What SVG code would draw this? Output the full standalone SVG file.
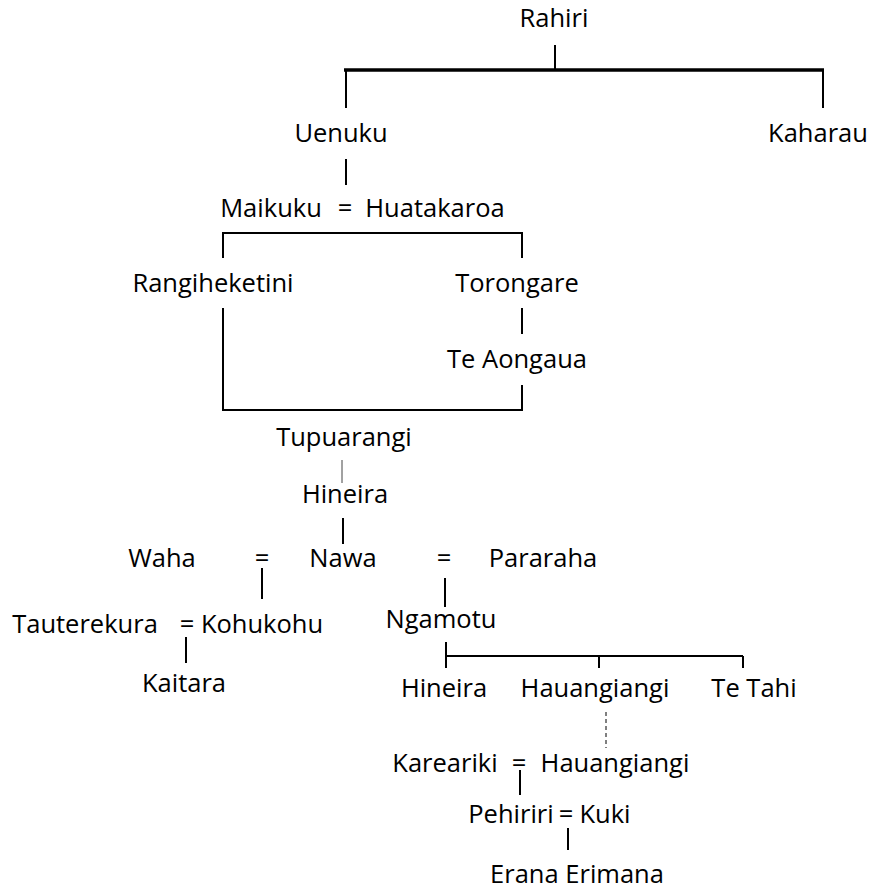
<svg xmlns="http://www.w3.org/2000/svg" width="873" height="890" viewBox="0 0 873 890">
<style>
text{font-family:"Open Sans","Noto Sans",sans-serif;font-size:25.5px;fill:#000;text-anchor:middle}
.l{stroke:#000;stroke-width:2;fill:none}
.thick{stroke:#000;stroke-width:3.5;fill:none}
.thin{stroke:#444;stroke-width:1;fill:none}
.dash{stroke:#000;stroke-width:1;stroke-dasharray:4 3;fill:none}
</style>
<rect width="873" height="890" fill="#fff"/>
<g id="connectors">
<line class="l" x1="555" y1="45" x2="555" y2="70"/>
<line class="thick" x1="344" y1="70" x2="824" y2="70"/>
<line class="l" x1="346" y1="70" x2="346" y2="108"/>
<line class="l" x1="823" y1="71" x2="823" y2="108"/>
<line class="l" x1="346" y1="159" x2="346" y2="185"/>
<path class="l" d="M223 258 V233 H522 V258"/>
<line class="l" x1="522" y1="308" x2="522" y2="334"/>
<path class="l" d="M223 308 V410 H522 V385"/>
<line class="thin" x1="342" y1="460" x2="342" y2="483"/>
<line class="l" x1="343" y1="518" x2="343" y2="544"/>
<line class="l" x1="262" y1="568" x2="262" y2="599"/>
<line class="l" x1="186" y1="637" x2="186" y2="663"/>
<line class="l" x1="445" y1="578" x2="445" y2="607"/>
<line class="l" x1="446" y1="642" x2="446" y2="668"/>
<line class="l" x1="446" y1="656" x2="743" y2="656"/>
<line class="l" x1="599" y1="656" x2="599" y2="668"/>
<line class="l" x1="743" y1="656" x2="743" y2="668"/>
<line class="dash" x1="606" y1="712" x2="606" y2="748"/>
<line class="l" x1="520" y1="770" x2="520" y2="795"/>
<line class="l" x1="568" y1="828" x2="568" y2="850"/>
</g>
<g id="rahiri"><text x="554" y="27">Rahiri</text></g>
<g id="uenuku"><text x="341" y="142">Uenuku</text></g>
<g id="kaharau"><text x="818" y="142">Kaharau</text></g>
<g id="maikuku"><text x="271" y="217">Maikuku</text></g>
<g id="eq1"><text x="345" y="217">=</text></g>
<g id="huatakaroa"><text x="435" y="217">Huatakaroa</text></g>
<g id="rangiheketini"><text x="213" y="292">Rangiheketini</text></g>
<g id="torongare"><text x="517" y="292">Torongare</text></g>
<g id="teaongaua"><text x="517" y="368">Te Aongaua</text></g>
<g id="tupuarangi"><text x="344" y="446">Tupuarangi</text></g>
<g id="hineira1"><text x="345" y="503">Hineira</text></g>
<g id="waha"><text x="162" y="567">Waha</text></g>
<g id="eq2"><text x="262" y="567">=</text></g>
<g id="nawa"><text x="343" y="567">Nawa</text></g>
<g id="eq3"><text x="444" y="567">=</text></g>
<g id="pararaha"><text x="543" y="567">Pararaha</text></g>
<g id="tauterekura"><text x="85" y="633">Tauterekura</text></g>
<g id="eq4"><text x="187" y="633">=</text></g>
<g id="kohukohu"><text x="262" y="633">Kohukohu</text></g>
<g id="kaitara"><text x="184" y="692">Kaitara</text></g>
<g id="ngamotu"><text x="441" y="628">Ngamotu</text></g>
<g id="hineira2"><text x="444" y="697">Hineira</text></g>
<g id="hauangiangi1"><text x="595" y="697">Hauangiangi</text></g>
<g id="tetahi"><text x="754" y="697">Te Tahi</text></g>
<g id="kareariki"><text x="445" y="772">Kareariki</text></g>
<g id="eq5"><text x="519" y="772">=</text></g>
<g id="hauangiangi2"><text x="615" y="772">Hauangiangi</text></g>
<g id="pehiriri"><text x="511" y="823">Pehiriri</text></g>
<g id="eq6"><text x="566" y="823">=</text></g>
<g id="kuki"><text x="605" y="823">Kuki</text></g>
<g id="erana"><text x="577" y="883">Erana Erimana</text></g>
</svg>
